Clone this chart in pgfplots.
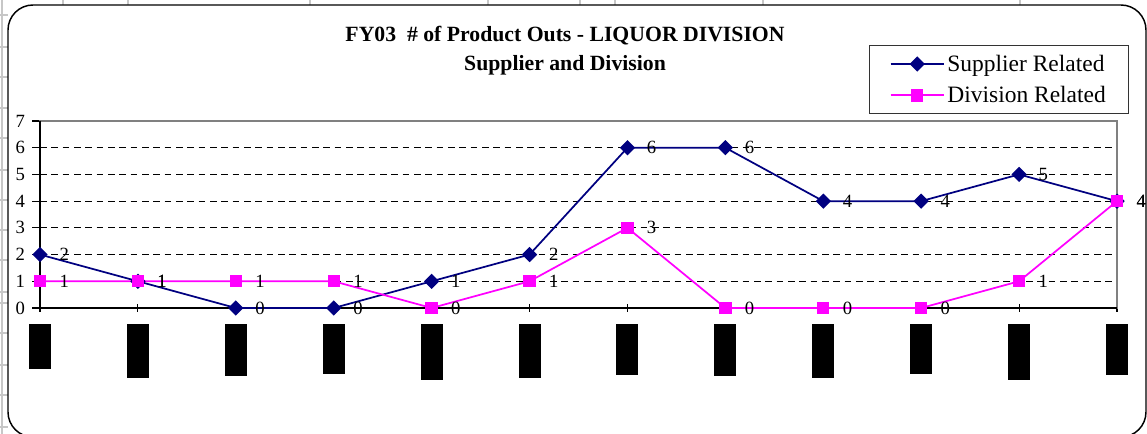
\documentclass[border=0pt]{standalone}
\usepackage{fontspec}
\setmainfont{Liberation Serif}
\usepackage{pgfplots}
\pgfplotsset{compat=1.18}
\definecolor{navyS}{HTML}{000080}
\definecolor{magD}{HTML}{FF00FF}
\pgfplotsset{/pgf/number format/assume math mode=true}
\begin{document}
\begin{tikzpicture}[x=0.75pt,y=0.75pt]
\useasboundingbox (0,0) rectangle (1147,434);
% spreadsheet grid behind the chart
\begin{scope}[draw=black!22, line width=0.9pt]
\foreach \x in {63,128,310,488,580,615,763,1020} \draw (\x,434) -- (\x,426);
\foreach \y in {15,47,77,108,138,170,200,230,260,292,303,333,365,395,427} \draw (0,434-\y) -- (8,434-\y);
\draw (2,0) -- (2,434);
\end{scope}
\filldraw[fill=white, draw=black, line width=1.1pt, rounded corners=18.75pt] (8,-3) rectangle (1146,429);
\begin{axis}[
  at={(30pt,94.5pt)}, anchor=south west,
  scale only axis, width=807.75pt, height=140.25pt,
  xmin=0, xmax=11, ymin=0, ymax=7,
  clip=false,
  axis line style={draw=black!50, line width=1.3pt},
  xtick={0,1,2,3,4,5,6,7,8,9,10,11},
  xticklabels={\rule{16.5pt}{33.75pt},\rule{16.5pt}{40.5pt},\rule{16.5pt}{39pt},\rule{16.5pt}{37.5pt},\rule{16.5pt}{42pt},\rule{16.5pt}{40.5pt},\rule{16.5pt}{38.25pt},\rule{16.5pt}{39pt},\rule{16.5pt}{40.5pt},\rule{16.5pt}{37.5pt},\rule{16.5pt}{42pt},\rule{16.5pt}{38.25pt}},
  xticklabel style={anchor=north, inner sep=0pt, yshift=-9pt},
  ytick={0,1,2,3,4,5,6,7},
  yticklabel={\pgfmathprintnumber{\tick}},
  yticklabel style={anchor=east, inner sep=0pt, xshift=-5pt, font=\fontsize{14}{16}\selectfont},
  xtick pos=bottom, ytick pos=left,
  x tick style={black, line width=0.8pt},
  y tick style={black, line width=0.8pt},
  major tick length=6pt,
  xtick align=center, ytick align=outside,
  ymajorgrids,
  grid style={black, dash pattern=on 5pt off 3.5pt, line width=0.7pt},
  title={FY03\ \ \# of Product Outs - LIQUOR DIVISION\\Supplier and Division},
  title style={at={(0.4875,1.334)}, anchor=center, align=center, font=\bfseries\fontsize{16.3}{21.75}\selectfont, inner sep=0pt},
  legend style={at={(0.770,1.406)}, anchor=north west, draw=black!80, line width=0.6pt,
    font=\fontsize{17.6}{20}\selectfont, inner xsep=15pt, inner ysep=5pt, row sep=5.8pt,
    nodes={inner sep=2pt}, column 2/.style={nodes={text width=113pt, align=left}}},
  legend cell align=left,
  legend image code/.code={\draw[mark repeat=2,mark phase=2,#1] plot coordinates {(0pt,0pt) (20pt,0pt) (40pt,0pt)};},
  nodes near coords={\pgfmathprintnumber{\pgfplotspointmeta}},
  every node near coord/.append style={anchor=west, inner sep=0pt, xshift=14pt, black, font=\fontsize{14}{16}\selectfont},
]
\draw[black, line width=1.1pt] (rel axis cs:0,1) -- (rel axis cs:0,0) -- (rel axis cs:1,0);
\addplot[navyS, line width=1.3pt, mark=square*, mark size=3.4pt, mark options={rotate=45, solid}]
  coordinates {(0,2) (1,1) (2,0) (3,0) (4,1) (5,2) (6,6) (7,6) (8,4) (9,4) (10,5) (11,4)};
\addlegendentry{Supplier Related}
\addplot[magD, line width=1.3pt, mark=square*, mark size=4pt, mark options={solid}]
  coordinates {(0,1) (1,1) (2,1) (3,1) (4,0) (5,1) (6,3) (7,0) (8,0) (9,0) (10,1) (11,4)};
\addlegendentry{Division Related}
\end{axis}
\end{tikzpicture}
\end{document}
